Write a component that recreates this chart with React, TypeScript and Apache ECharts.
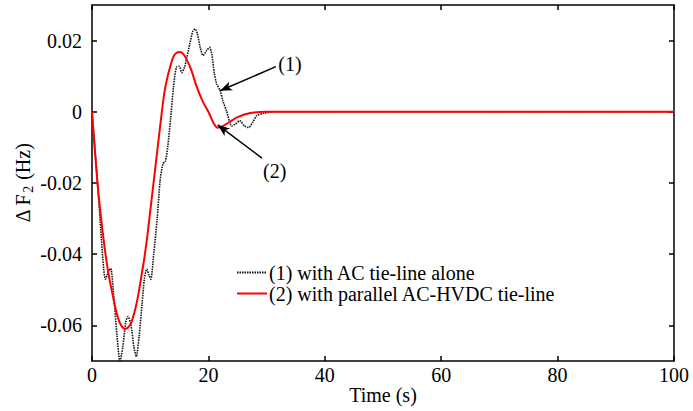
import React, { useEffect, useRef } from "react";
import * as echarts from "echarts";

// Curve (2): with parallel AC-HVDC tie-line
const redT = [0, 0.5, 1, 1.5, 2, 2.5, 3, 3.5, 4, 4.5, 5, 5.7, 6.5, 7, 7.5, 8, 8.5, 9, 9.5, 10, 10.5, 11, 11.5, 12, 12.5, 13, 13.5, 14, 14.5, 15, 15.5, 16, 17, 18, 19, 20, 21, 21.6, 22.5, 23.5, 25, 27, 30, 100];
const redV = [0, -0.011, -0.021, -0.029, -0.036, -0.042, -0.047, -0.051, -0.055, -0.058, -0.060, -0.061, -0.060, -0.058, -0.055, -0.051, -0.046, -0.041, -0.035, -0.028, -0.021, -0.014, -0.007, 0.000, 0.006, 0.010, 0.013, 0.0155, 0.0165, 0.0168, 0.0165, 0.0155, 0.012, 0.007, 0.003, 0.000, -0.0035, -0.0045, -0.004, -0.003, -0.0015, -0.0004, 0, 0];

// Curve (1): with AC tie-line alone
const blackT = [0, 0.5, 1, 1.5, 2, 2.3, 2.8, 3.2, 3.8, 4.3, 4.8, 5.3, 5.8, 6.2, 6.7, 7.2, 7.6, 8.1, 8.6, 9.0, 9.4, 9.8, 10.1, 10.6, 11.2, 11.7, 12.2, 12.6, 13, 13.5, 14, 14.5, 15, 15.4, 15.9, 16.3, 16.8, 17.3, 17.7, 18.1, 18.6, 19.1, 19.6, 20.2, 20.6, 21.0, 21.4, 22, 22.5, 23.1, 24, 24.6, 25.4, 26.2, 26.9, 27.6, 28.3, 29.5, 31, 100];
const blackV = [0, -0.010, -0.021, -0.033, -0.044, -0.047, -0.045, -0.044, -0.053, -0.063, -0.070, -0.066, -0.059, -0.0575, -0.060, -0.066, -0.0687, -0.063, -0.054, -0.047, -0.0442, -0.046, -0.047, -0.040, -0.030, -0.0194, -0.0145, -0.014, -0.010, -0.002, 0.007, 0.0125, 0.0128, 0.011, 0.0125, 0.0153, 0.019, 0.0225, 0.0233, 0.022, 0.018, 0.0158, 0.017, 0.0181, 0.016, 0.011, 0.0079, 0.006, 0.003, 0.0003, -0.004, -0.0035, -0.0025, -0.004, -0.0044, -0.003, -0.0011, -0.0004, 0, 0];

const seriesNames = ["(1) with AC tie-line alone", "(2) with parallel AC-HVDC tie-line"];
const yTicks = [-0.06, -0.04, -0.02, 0, 0.02];
const xTicks = [0, 20, 40, 60, 80, 100];

const FONT = "Liberation Serif";
const FS = 20;

export default function App() {
  const ref = useRef<HTMLDivElement>(null);
  useEffect(() => {
    if (!ref.current) return;
    const chart = echarts.init(ref.current, null, { renderer: "svg" });
    const redData = redT.map((t, i) => [t, redV[i]]);
    const blackData = blackT.map((t, i) => [t, blackV[i]]);
    const axisLine = { show: true, onZero: false, lineStyle: { color: "#000", width: 1.5 } };
    const tickStyle = { show: true, inside: true, length: 5, lineStyle: { color: "#000", width: 1.5 } };
    chart.setOption({
      animation: false,
      backgroundColor: "#fff",
      textStyle: { fontFamily: FONT },
      grid: { left: 92, right: 19, top: 5, bottom: 50, outerBoundsMode: "none", containLabel: false },
      legend: {
        orient: "vertical",
        left: 231,
        top: 257,
        itemWidth: 30,
        itemHeight: 10,
        itemGap: 0,
        data: seriesNames,
        itemStyle: { opacity: 0 },
        textStyle: { fontFamily: FONT, fontSize: FS, lineHeight: 21, color: "#000", padding: [0, 0, 0, -3] },
      },
      xAxis: [
        {
          type: "value",
          min: 0,
          max: 100,
          interval: 20,
          name: "Time (s)",
          nameLocation: "middle",
          nameGap: 34,
          nameMoveOverlap: false,
          nameTextStyle: { fontFamily: FONT, fontSize: FS, color: "#000", verticalAlign: "middle" },
          axisLine,
          axisTick: tickStyle,
          axisLabel: { fontFamily: FONT, fontSize: FS, color: "#000", margin: 4, customValues: xTicks },
          splitLine: { show: false },
        },
        {
          type: "value",
          position: "top",
          min: 0,
          max: 100,
          interval: 20,
          axisLine,
          axisTick: tickStyle,
          axisLabel: { show: false },
          splitLine: { show: false },
        },
      ],
      yAxis: [
        {
          type: "value",
          min: -0.07,
          max: 0.03,
          name: "{a|Δ F}{sub|2}{a| (Hz)}",
          nameLocation: "middle",
          nameGap: 57,
          nameMoveOverlap: false,
          nameTextStyle: {
            rich: {
              a: { fontFamily: FONT, fontSize: FS, color: "#000" },
              sub: { fontFamily: FONT, fontSize: 14, color: "#000", padding: [11, 1, 0, 1] },
            },
          },
          axisLine,
          axisTick: { ...tickStyle, customValues: yTicks },
          axisLabel: {
            fontFamily: FONT,
            fontSize: FS,
            color: "#000",
            margin: 10,
            customValues: yTicks,
            formatter: (v: number) => (Math.abs(v) < 1e-9 ? "0" : v.toFixed(2)),
          },
          splitLine: { show: false },
        },
        {
          type: "value",
          position: "right",
          min: -0.07,
          max: 0.03,
          axisLine,
          axisTick: { ...tickStyle, customValues: yTicks },
          axisLabel: { show: false },
          splitLine: { show: false },
        },
      ],
      series: [
        {
          name: seriesNames[0],
          type: "line",
          data: blackData,
          showSymbol: false,
          symbol: "none",
          smooth: 0.25,
          lineStyle: { color: "#111", width: 1.6, type: [1.5, 1] },
          itemStyle: { color: "#111" },
          z: 2,
          markLine: {
            silent: true,
            symbol: ["none", "arrow"],
            symbolSize: [7, 12],
            label: { show: false },
            lineStyle: { color: "#000", type: "solid", width: 1.5 },
            data: [
              [{ coord: [31.6, 0.0127] }, { coord: [22.0, 0.0059] }],
              [{ coord: [29.2, -0.013] }, { coord: [21.6, -0.0037] }],
            ],
          },
          markPoint: {
            silent: true,
            symbol: "circle",
            symbolSize: 1,
            itemStyle: { color: "rgba(0,0,0,0)" },
            label: { show: true, position: "inside", fontFamily: FONT, fontSize: FS, color: "#000", formatter: (p: any) => p.name },
            data: [
              { name: "(1)", coord: [34.0, 0.0135] },
              { name: "(2)", coord: [31.4, -0.0166] },
            ],
          },
        },
        {
          name: seriesNames[1],
          type: "line",
          data: redData,
          showSymbol: false,
          symbol: "none",
          smooth: 0.35,
          lineStyle: { color: "#ff0000", width: 2 },
          itemStyle: { color: "#ff0000" },
          z: 3,
        },
      ],
    });
    return () => chart.dispose();
  }, []);
  return <div ref={ref} style={{ position: "fixed", left: 0, top: 0, width: 693, height: 411 }} />;
}
